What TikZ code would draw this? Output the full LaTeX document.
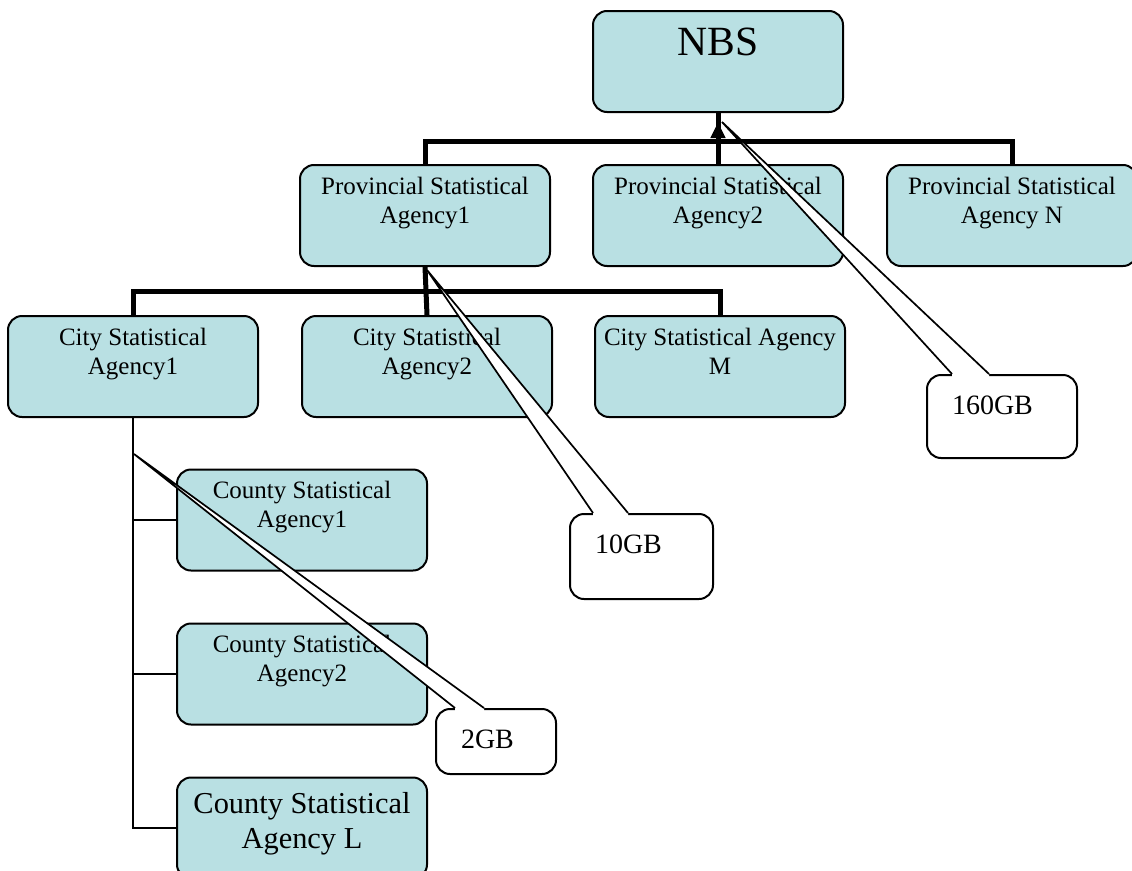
\documentclass[tikz,border=0pt]{standalone}
\usepackage{fontspec}
\setmainfont{Liberation Serif}
\usepackage{xcolor}
\usepackage{tikz}
\usetikzlibrary{arrows.meta,positioning,calc}

\definecolor{boxfill}{RGB}{185,224,227}
\newcommand{\intext}[3]{\parbox[c][#1][t]{#2}{\centering #3}}
\newcommand{\gbtext}[3]{\parbox[c][#1][t]{#2}{\raggedright #3}}

\tikzset{
  agency/.style={draw, fill=boxfill, rounded corners=14pt, line width=2pt,
    inner xsep=0pt, inner ysep=12pt, minimum width=250pt, minimum height=101pt,
    font=\fontsize{25}{29}\selectfont},
  callout/.style={draw, fill=white, rounded corners=14pt, line width=2pt,
    anchor=north west, inner xsep=25pt, inner ysep=21pt,
    font=\fontsize{28}{32}\selectfont},
  conn/.style={line width=5pt},
  thinconn/.style={line width=2.5pt},
  wedge/.style={line width=1.7pt, line join=miter}
}

\begin{document}
\begin{tikzpicture}[x=1pt, y=-1pt, node distance=42pt]
    \useasboundingbox (0,0) rectangle (1132,870);

    % top level
    \node[agency, inner ysep=17pt, font=\fontsize{41.6}{46}\selectfont] (nbs) at (718,61.5)
        {\intext{67pt}{250pt}{NBS}};

    % provinces
    \node[agency] (p2) at (718,215.5) {\intext{77pt}{250pt}{Provincial Statistical\\Agency2}};
    \node[agency, left=41pt of p2] (p1) {\intext{77pt}{250pt}{Provincial Statistical\\Agency1}};
    \node[agency, right=42pt of p2] (pn) {\intext{77pt}{250pt}{Provincial Statistical\\Agency N}};

    % cities
    \node[agency] (c2) at (427,366.5) {\intext{77pt}{250pt}{City Statistical\\Agency2}};
    \node[agency, left=of c2] (c1) {\intext{77pt}{250pt}{City Statistical\\Agency1}};
    \node[agency, right=41pt of c2] (cm) {\intext{77pt}{250pt}{City Statistical Agency\\M}};

    % counties
    \node[agency] (k1) at (302,520) {\intext{77pt}{250pt}{County Statistical\\Agency1}};
    \node[agency, below=51pt of k1] (k2) {\intext{77pt}{250pt}{County Statistical\\Agency2}};
    \node[agency, below=51pt of k2, inner ysep=15pt, font=\fontsize{30.4}{35}\selectfont] (kl)
        {\intext{71pt}{250pt}{County Statistical\\Agency L}};

    % connectors
    \coordinate (pbar) at ($(nbs.south)!0.55!(p2.north)$);
    \coordinate (cbar) at ($(p1.south)!0.52!(c2.north)$);
    \draw[conn] (p1.north) |- (pbar) -| (pn.north);
    \draw[conn] (nbs.south) -- (p2.north);
    \draw[conn, -{Triangle[width=14pt,length=16pt]}, shorten >=9pt] (pbar) -- (nbs.south);
    \draw[conn] (c1.north) |- (cbar) -| (cm.north);
    \draw[conn] (p1.south) -- (c2.north);
    \draw[thinconn] (c1.south) |- (kl.west);
    \draw[thinconn] (c1.south |- k1.west) -- (k1.west);
    \draw[thinconn] (c1.south |- k2.west) -- (k2.west);

    % data volume callouts
    \node[callout, minimum width=150pt, minimum height=83pt] (gb160) at (926,374)
        {\gbtext{41pt}{100pt}{160GB}};
    \node[callout, minimum width=143pt, minimum height=85pt] (gb10) at (569,513)
        {\gbtext{43pt}{93pt}{10GB}};
    \node[callout, minimum width=120pt, minimum height=65pt] (gb2) at (435,708)
        {\gbtext{23pt}{70pt}{2GB}};

    \coordinate (t160) at ($(nbs.south)+(4,9)$);
    \coordinate (t10) at ($(p1.south)+(2,3)$);
    \coordinate (t2) at ($(c1.south)+(1,36)$);

    \fill[white] (t160) -- ($(gb160.north west)+(26,0)$) -- ($(gb160.north west)+(26,3)$)
        -- ($(gb160.north west)+(63,3)$) -- ($(gb160.north west)+(63,0)$) -- cycle;
    \draw[wedge] ($(gb160.north west)+(26,0)$) -- (t160) -- ($(gb160.north west)+(63,0)$);
    \fill[white] (t10) -- ($(gb10.north west)+(24,0)$) -- ($(gb10.north west)+(24,3)$)
        -- ($(gb10.north west)+(59,3)$) -- ($(gb10.north west)+(59,0)$) -- cycle;
    \draw[wedge] ($(gb10.north west)+(24,0)$) -- (t10) -- ($(gb10.north west)+(59,0)$);
    \fill[white] (t2) -- ($(gb2.north west)+(20,0)$) -- ($(gb2.north west)+(20,3)$)
        -- ($(gb2.north west)+(49,3)$) -- ($(gb2.north west)+(49,0)$) -- cycle;
    \draw[wedge] ($(gb2.north west)+(20,0)$) -- (t2) -- ($(gb2.north west)+(49,0)$);
\end{tikzpicture}
\end{document}
